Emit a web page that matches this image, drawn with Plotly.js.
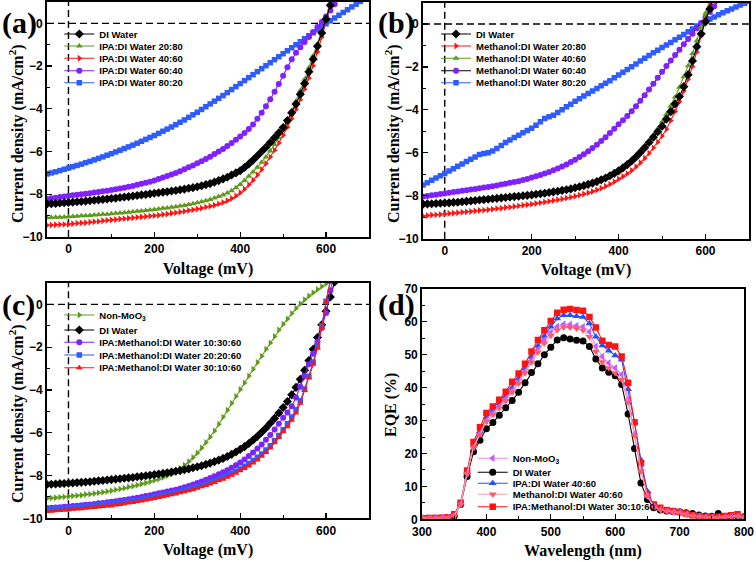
<!DOCTYPE html>
<html>
<head>
<meta charset="utf-8">
<script src="https://cdn.plot.ly/plotly-3.0.1.min.js"></script>
<style>
html,body{margin:0;padding:0;background:#fff;}
#chart{width:756px;height:562px;}
</style>
</head>
<body>
<div id="chart"></div>
<script>
// ---------------- DATA ----------------
const voltage = [-50,-40,-30,-20,-10,0,10,20,30,40,50,60,70,80,90,100,110,120,130,140,150,160,170,180,190,200,210,220,230,240,250,260,270,280,290,300,310,320,330,340,350,360,370,380,390,400,410,420,430,440,450,460,470,480,490,500,510,520,530,540,550,560,570,580,590,600,610,620,630,640,650,660,670,680,690,700];

// (a) IPA:DI Water
const aDI = [-8.45,-8.44,-8.43,-8.41,-8.40,-8.38,-8.37,-8.35,-8.34,-8.32,
-8.30,-8.28,-8.26,-8.24,-8.22,-8.20,-8.18,-8.15,-8.13,-8.11,
-8.08,-8.06,-8.03,-8.01,-7.98,-7.95,-7.93,-7.90,-7.88,-7.85,
-7.82,-7.79,-7.76,-7.72,-7.69,-7.65,-7.60,-7.55,-7.50,-7.43,
-7.36,-7.28,-7.20,-7.10,-7.00,-6.90,-6.75,-6.58,-6.40,-6.20,
-6.00,-5.80,-5.58,-5.35,-5.12,-4.88,-4.55,-4.18,-3.78,-3.32,
-2.82,-2.27,-1.68,-1.07,-0.45,0.20,0.85,1.50];
const aIPA2080 = [-9.10,-9.09,-9.08,-9.07,-9.06,-9.05,-9.04,-9.03,-9.01,-9.00,
-8.99,-8.97,-8.96,-8.94,-8.93,-8.91,-8.89,-8.88,-8.86,-8.84,
-8.82,-8.80,-8.78,-8.76,-8.74,-8.71,-8.69,-8.66,-8.64,-8.61,
-8.58,-8.55,-8.52,-8.48,-8.44,-8.40,-8.35,-8.30,-8.24,-8.18,
-8.11,-8.03,-7.94,-7.83,-7.70,-7.54,-7.36,-7.16,-6.96,-6.74,
-6.50,-6.25,-5.97,-5.67,-5.35,-5.00,-4.58,-4.12,-3.64,-3.14,
-2.62,-2.08,-1.52,-0.95,-0.37,0.22,0.82,1.42];
const aIPA4060 = [-9.45,-9.44,-9.43,-9.42,-9.41,-9.40,-9.38,-9.36,-9.34,-9.33,
-9.31,-9.29,-9.27,-9.24,-9.22,-9.20,-9.18,-9.16,-9.14,-9.12,
-9.10,-9.08,-9.06,-9.04,-9.02,-9.00,-8.98,-8.95,-8.92,-8.89,
-8.86,-8.83,-8.80,-8.76,-8.73,-8.69,-8.65,-8.60,-8.56,-8.51,
-8.45,-8.38,-8.30,-8.20,-8.08,-7.93,-7.76,-7.56,-7.34,-7.10,
-6.84,-6.56,-6.26,-5.94,-5.60,-5.24,-4.86,-4.46,-4.03,-3.57,
-3.08,-2.56,-1.98,-1.34,-0.64,0.10,0.85,1.60];
const aIPA6040 = [-8.22,-8.19,-8.16,-8.13,-8.10,-8.07,-8.05,-8.02,-8.00,-7.97,
-7.95,-7.92,-7.89,-7.86,-7.83,-7.80,-7.77,-7.73,-7.69,-7.65,
-7.61,-7.56,-7.51,-7.46,-7.41,-7.35,-7.29,-7.22,-7.15,-7.08,
-7.00,-6.92,-6.83,-6.74,-6.65,-6.55,-6.45,-6.35,-6.24,-6.12,
-6.00,-5.88,-5.74,-5.60,-5.45,-5.30,-5.13,-4.95,-4.73,-4.46,
-4.18,-3.88,-3.55,-3.20,-2.84,-2.45,-2.06,-1.68,-1.38,-1.12,
-0.87,-0.64,-0.40,-0.17,0.06,0.32,0.60,0.90,1.20];
const aIPA8020 = [-7.05,-7.00,-6.95,-6.89,-6.83,-6.77,-6.71,-6.65,-6.59,-6.52,
-6.46,-6.39,-6.32,-6.25,-6.17,-6.10,-6.02,-5.94,-5.86,-5.78,
-5.70,-5.61,-5.52,-5.43,-5.34,-5.25,-5.15,-5.05,-4.95,-4.85,
-4.74,-4.63,-4.52,-4.40,-4.28,-4.16,-4.03,-3.90,-3.77,-3.64,
-3.51,-3.38,-3.24,-3.10,-2.96,-2.82,-2.68,-2.54,-2.40,-2.26,
-2.12,-1.98,-1.84,-1.70,-1.56,-1.42,-1.28,-1.14,-1.00,-0.86,
-0.72,-0.58,-0.44,-0.30,-0.16,-0.02,0.12,0.25,0.38,0.51,
0.64,0.77,0.90,1.03,1.16,1.29];

// (b) Methanol:DI Water
const bDI = [-8.39,-8.38,-8.37,-8.36,-8.35,-8.34,-8.33,-8.31,-8.30,-8.28,
-8.26,-8.24,-8.22,-8.20,-8.18,-8.16,-8.14,-8.12,-8.10,-8.08,
-8.06,-8.04,-8.02,-8.00,-7.98,-7.96,-7.93,-7.91,-7.88,-7.85,
-7.82,-7.79,-7.75,-7.72,-7.68,-7.63,-7.58,-7.53,-7.47,-7.41,
-7.34,-7.26,-7.17,-7.07,-6.96,-6.84,-6.70,-6.55,-6.38,-6.19,
-5.98,-5.76,-5.52,-5.27,-5.02,-4.76,-4.43,-4.08,-3.72,-3.38,
-2.92,-2.36,-1.72,-1.06,-0.46,0.10,0.70,1.32];
const bMe2080 = [-8.94,-8.92,-8.90,-8.89,-8.87,-8.85,-8.83,-8.81,-8.79,-8.77,
-8.75,-8.73,-8.71,-8.69,-8.67,-8.65,-8.63,-8.60,-8.58,-8.55,
-8.53,-8.50,-8.47,-8.44,-8.42,-8.39,-8.36,-8.33,-8.29,-8.26,
-8.22,-8.19,-8.15,-8.11,-8.07,-8.02,-7.97,-7.92,-7.86,-7.80,
-7.73,-7.65,-7.56,-7.46,-7.35,-7.22,-7.10,-6.97,-6.82,-6.65,
-6.46,-6.25,-6.02,-5.77,-5.50,-5.22,-4.90,-4.50,-4.08,-3.62,
-3.12,-2.58,-1.98,-1.30,-0.55,0.20,0.95,1.70];
const bMe4060 = [-8.39,-8.38,-8.37,-8.36,-8.35,-8.34,-8.33,-8.31,-8.30,-8.28,
-8.26,-8.24,-8.22,-8.20,-8.18,-8.16,-8.14,-8.12,-8.10,-8.08,
-8.06,-8.04,-8.02,-8.00,-7.98,-7.96,-7.93,-7.91,-7.88,-7.85,
-7.82,-7.79,-7.75,-7.72,-7.68,-7.64,-7.59,-7.54,-7.48,-7.42,
-7.35,-7.27,-7.18,-7.08,-6.97,-6.85,-6.71,-6.56,-6.38,-6.18,
-5.96,-5.72,-5.46,-5.18,-4.88,-4.56,-4.20,-3.82,-3.40,-2.95,
-2.46,-1.94,-1.38,-0.78,-0.15,0.50,1.15];
const bMe6040 = [-8.04,-8.01,-7.98,-7.95,-7.92,-7.89,-7.86,-7.83,-7.80,-7.77,
-7.74,-7.71,-7.68,-7.65,-7.62,-7.59,-7.56,-7.52,-7.48,-7.44,
-7.40,-7.36,-7.32,-7.27,-7.22,-7.15,-7.09,-7.03,-6.96,-6.89,
-6.81,-6.73,-6.64,-6.54,-6.43,-6.32,-6.20,-6.07,-5.93,-5.78,
-5.62,-5.45,-5.27,-5.08,-4.88,-4.67,-4.48,-4.28,-4.07,-3.83,
-3.58,-3.32,-3.05,-2.78,-2.50,-2.23,-1.96,-1.70,-1.45,-1.20,
-0.95,-0.70,-0.45,-0.20,0.05,0.30,0.56,0.83,1.10];
const bMe8020 = [-7.50,-7.39,-7.28,-7.17,-7.07,-6.96,-6.85,-6.74,-6.63,-6.52,
-6.41,-6.30,-6.19,-6.08,-6.03,-6.00,-5.92,-5.80,-5.66,-5.52,
-5.40,-5.29,-5.18,-5.07,-4.96,-4.86,-4.72,-4.55,-4.40,-4.32,
-4.25,-4.12,-3.99,-3.86,-3.74,-3.60,-3.48,-3.36,-3.24,-3.12,
-3.00,-2.88,-2.76,-2.64,-2.51,-2.38,-2.25,-2.12,-1.99,-1.86,
-1.73,-1.60,-1.47,-1.34,-1.22,-1.10,-0.98,-0.86,-0.74,-0.62,
-0.49,-0.36,-0.23,-0.10,0.02,0.13,0.23,0.33,0.43,0.52,
0.61,0.70,0.79,0.88,0.97,1.06];

// (c) ternary mixtures
const cNonMoO3 = [-9.07,-9.05,-9.04,-9.02,-9.00,-8.98,-8.96,-8.94,-8.92,-8.89,
-8.87,-8.84,-8.81,-8.78,-8.75,-8.71,-8.67,-8.63,-8.59,-8.54,
-8.50,-8.45,-8.40,-8.35,-8.29,-8.22,-8.16,-8.09,-8.01,-7.92,
-7.80,-7.67,-7.52,-7.35,-7.16,-6.95,-6.71,-6.46,-6.20,-5.92,
-5.60,-5.27,-4.95,-4.62,-4.30,-3.98,-3.67,-3.35,-3.03,-2.72,
-2.42,-2.10,-1.80,-1.50,-1.20,-0.93,-0.68,-0.42,-0.18,0.03,
0.22,0.39,0.55,0.70,0.84,0.97,1.09];
const cDI = [-8.42,-8.41,-8.40,-8.38,-8.37,-8.36,-8.35,-8.33,-8.32,-8.30,
-8.29,-8.27,-8.25,-8.23,-8.21,-8.19,-8.17,-8.15,-8.13,-8.11,
-8.09,-8.06,-8.04,-8.01,-7.99,-7.96,-7.93,-7.90,-7.87,-7.84,
-7.80,-7.77,-7.73,-7.69,-7.64,-7.59,-7.54,-7.48,-7.42,-7.35,
-7.28,-7.20,-7.11,-7.01,-6.90,-6.78,-6.65,-6.50,-6.34,-6.17,
-5.98,-5.78,-5.56,-5.33,-5.08,-4.82,-4.54,-4.23,-3.88,-3.50,
-3.08,-2.62,-2.10,-1.55,-0.95,-0.32,0.35,1.05];
const c103060 = [-9.52,-9.51,-9.49,-9.48,-9.46,-9.45,-9.43,-9.41,-9.39,-9.37,
-9.35,-9.33,-9.30,-9.28,-9.25,-9.23,-9.20,-9.17,-9.14,-9.11,
-9.07,-9.04,-9.00,-8.96,-8.92,-8.87,-8.83,-8.79,-8.75,-8.70,
-8.66,-8.61,-8.55,-8.49,-8.42,-8.35,-8.28,-8.20,-8.12,-8.03,
-7.94,-7.85,-7.75,-7.64,-7.52,-7.39,-7.25,-7.09,-6.92,-6.74,
-6.55,-6.33,-6.10,-5.85,-5.58,-5.30,-5.05,-4.76,-4.35,-3.85,
-3.35,-2.80,-2.30,-1.75,-1.10,-0.40,0.65,1.50];
const c202060 = [-9.58,-9.57,-9.55,-9.54,-9.52,-9.51,-9.49,-9.47,-9.45,-9.43,
-9.41,-9.39,-9.37,-9.35,-9.33,-9.31,-9.28,-9.26,-9.23,-9.20,
-9.17,-9.14,-9.11,-9.07,-9.03,-8.99,-8.95,-8.91,-8.87,-8.83,
-8.78,-8.73,-8.68,-8.63,-8.57,-8.51,-8.45,-8.38,-8.31,-8.24,
-8.16,-8.08,-7.99,-7.90,-7.80,-7.69,-7.57,-7.44,-7.30,-7.15,
-6.99,-6.81,-6.61,-6.38,-6.13,-5.86,-5.58,-5.27,-4.92,-4.50,
-3.95,-3.36,-2.70,-1.95,-1.00,0.15,1.10];
const c301060 = [-9.68,-9.67,-9.65,-9.63,-9.62,-9.60,-9.58,-9.57,-9.55,-9.53,
-9.51,-9.49,-9.47,-9.45,-9.43,-9.42,-9.38,-9.35,-9.32,-9.29,
-9.26,-9.22,-9.19,-9.15,-9.11,-9.07,-9.03,-8.99,-8.95,-8.90,
-8.86,-8.81,-8.76,-8.71,-8.66,-8.59,-8.53,-8.47,-8.40,-8.33,
-8.25,-8.17,-8.08,-7.99,-7.89,-7.78,-7.67,-7.55,-7.42,-7.27,
-7.10,-6.92,-6.71,-6.47,-6.22,-5.95,-5.72,-5.42,-5.08,-4.62,
-4.02,-3.44,-2.80,-2.05,-1.10,0.12,1.10];

// (d) EQE
const wavelength = [300,310,320,330,340,350,360,370,380,390,400,410,420,430,440,450,460,470,480,490,500,510,520,530,540,550,560,570,580,590,600,610,620,630,640,650,660,670,680,690,700,710,720,730,740,750,760,770,780,790,800];
const eqeNonMoO3 = [0.3,0.3,0.3,0.4,0.5,1.2,4.6,14.0,22.0,26.0,
30.0,32.2,34.3,36.6,39.2,41.8,45.0,48.3,51.5,54.3,
56.8,58.6,59.3,59.2,58.8,58.5,57.0,52.5,49.5,47.5,
46.0,44.0,36.5,26.0,15.0,7.0,3.8,3.0,2.5,2.2,
1.9,1.5,1.1,0.8,0.6,0.5,0.5,0.6,0.8,0.9,0.6];
const eqeDI = [0.3,0.3,0.3,0.3,0.4,1.0,4.5,13.0,20.5,24.0,
27.5,29.4,31.6,33.9,36.1,38.6,41.5,44.6,47.3,50.0,
52.3,54.5,55.2,54.8,54.4,54.2,52.5,48.7,46.0,44.7,
43.6,41.0,32.0,21.5,11.0,6.0,3.5,2.8,2.5,2.4,
2.2,2.0,1.8,1.3,1.0,0.9,1.8,0.8,0.9,1.1,0.8];
const eqeIPA = [0.3,0.3,0.4,0.4,0.5,1.2,4.8,14.2,22.5,26.8,
31.0,33.0,35.2,37.4,40.0,42.8,45.8,49.3,52.7,55.7,
58.5,61.0,62.0,62.0,61.7,61.5,59.5,55.5,52.8,51.2,
49.8,48.5,39.5,29.5,18.0,8.5,4.0,3.2,2.6,2.3,
2.0,1.6,1.2,0.9,0.7,0.6,0.6,0.7,0.9,1.0,0.7];
const eqeMethanol = [0.3,0.3,0.3,0.4,0.5,1.1,4.5,13.8,21.8,25.8,
29.8,31.8,33.8,36.0,38.6,41.3,44.5,47.7,50.8,53.5,
55.8,57.5,58.4,58.3,58.0,57.5,55.5,51.0,47.8,46.0,
44.5,42.5,35.5,25.5,14.5,7.0,3.8,2.9,2.5,2.2,
1.9,1.5,1.1,0.8,0.6,0.5,0.5,0.6,0.8,1.0,0.6];
const eqeMix = [0.3,0.4,0.4,0.5,0.6,1.5,5.0,14.8,23.5,28.0,
32.3,34.3,36.3,38.8,41.8,44.3,47.3,51.0,54.5,57.5,
60.3,62.8,63.7,63.9,63.6,63.4,61.5,58.3,54.3,53.0,
52.5,49.5,41.5,29.5,17.0,7.5,4.5,3.5,2.8,2.5,
2.2,1.8,1.2,1.0,0.8,0.8,0.8,1.0,1.2,1.5,0.6];

// ---------------- STYLE ----------------
const SANS = '"Liberation Sans", Arial, sans-serif';
const SERIF = '"Liberation Serif", "Times New Roman", serif';
const W = 756, H = 562;
const C = {black:'#000000', green:'#5f9a1c', red:'#ff1414', purple:'#7f22ff', blue:'#2e5cff',
           violet:'#c45cff', violetLine:'#e889f0', pink:'#ff5a6a', pinkLine:'#ff9ea6', blue2:'#2450ff'};

const traces = [];
const layout = {
  width: W, height: H, margin:{l:0,r:0,t:0,b:0},
  paper_bgcolor:'#ffffff', plot_bgcolor:'#ffffff', showlegend:true,
  shapes: [], annotations: []
};
let legendCount = 0;
// add a trace with its own single-entry legend placed at (textX, rowY) pixels
function addSeries(opts){
  legendCount++;
  const lid = legendCount === 1 ? 'legend' : 'legend' + legendCount;
  const ax = opts.axis === 1 ? '' : String(opts.axis);
  traces.push({
    type:'scatter', mode:'lines+markers', name: opts.name,
    x: opts.x, y: opts.y, xaxis:'x'+ax, yaxis:'y'+ax,
    line:{color: opts.lineColor || opts.color, width:1.1},
    marker:{color: opts.color, symbol: opts.symbol, size: opts.size || 6, line:{width:0}},
    legend: lid, showlegend:true, cliponaxis:true
  });
  layout[lid] = {
    x: (opts.textX - 40) / W, y: 1 - opts.rowY / H, xanchor:'left', yanchor:'middle',
    bgcolor:'rgba(0,0,0,0)', borderwidth:0, itemwidth:30,
    font:{family:SANS, size:9.5, color:'#000', weight:'bold'}
  };
}

function axisPair(n, xdom, ydom, xr, yr, xd, xm, yd, ym, xtitle){
  const s = n === 1 ? '' : String(n);
  const common = {showgrid:false, zeroline:false, showline:true, mirror:true, linecolor:'#000', linewidth:1.8,
    ticks:'inside', ticklen:5, tickwidth:1.2, tickcolor:'#000',
    tickfont:{family:SANS, size:12, color:'#000', weight:'bold'}};
  layout['xaxis'+s] = Object.assign({}, common, {domain:xdom, range:xr, anchor:'y'+s, tick0:0, dtick:xd,
    minor:{dtick:xm, ticks:'inside', ticklen:3, tickcolor:'#000', tickwidth:1, showgrid:false},
    title:{text:xtitle, font:{family:SERIF, size:16, color:'#000', weight:'bold'}, standoff:7}});
  layout['yaxis'+s] = Object.assign({}, common, {domain:ydom, range:yr, anchor:'x'+s, tick0:0, dtick:yd,
    minor:{dtick:ym, ticks:'inside', ticklen:3, tickcolor:'#000', tickwidth:1, showgrid:false}});
}
axisPair(1, [47/W, 369/W], [1-237/H, 1-2/H], [-50,700], [-10,1], 200, 100, 2, 1, 'Voltage (mV)');
axisPair(2, [423/W, 749/W], [1-238.7/H, 1-2.5/H], [-50,700], [-10,1], 200, 100, 2, 1, 'Voltage (mV)');
axisPair(3, [47/W, 369/W], [1-518.3/H, 1-283/H], [-50,700], [-10,1], 200, 100, 2, 1, 'Voltage (mV)');
axisPair(4, [422/W, 744/W], [1-519.3/H, 1-289/H], [300,800], [0,70], 100, 50, 10, 5, 'Wavelength (nm)');

// y-axis titles (rotated), placed where the reference shows them
const yTitleJ = 'Current density (mA/cm<sup>2</sup>)';
[[yTitleJ,16,134],[yTitleJ,392,134],[yTitleJ,16,414],['EQE (%)',391,405]].forEach(t => {
  layout.annotations.push({text:t[0], xref:'paper', yref:'paper', x:t[1]/W, y:1-t[2]/H, xanchor:'center', yanchor:'middle',
    textangle:-90, showarrow:false, font:{family:SERIF, size:16, color:'#000', weight:'bold'}});
});

// dashed reference lines in J-V panels
[1,2,3].forEach(n => {
  const s = n === 1 ? '' : String(n);
  const dash = {color:'#000', width:1.4, dash:'7px,4px'};
  layout.shapes.push({type:'line', layer:'below', xref:'x'+s, yref:'y'+s+' domain', x0:0, x1:0, y0:0, y1:1, line:dash});
  layout.shapes.push({type:'line', layer:'below', xref:'x'+s+' domain', yref:'y'+s, x0:0, x1:1, y0:0, y1:0, line:dash});
});

// panel labels
[['(a)',0,23],['(b)',376,23],['(c)',0,305],['(d)',376,305]].forEach(p => {
  layout.annotations.push({text:p[0], xref:'paper', yref:'paper', x:p[1]/W, y:1-p[2]/H, xanchor:'left', yanchor:'middle',
    showarrow:false, font:{family:SERIF, size:30, color:'#000', weight:'bold'}});
});

// ---------------- TRACES ----------------
// (a) — drawing order chosen so black sits on top like the reference
addSeries({axis:1, name:'IPA:DI Water 80:20', x:voltage, y:aIPA8020, color:C.blue, symbol:'square', size:5.5, textX:99.3, rowY:82.7});
addSeries({axis:1, name:'IPA:DI Water 60:40', x:voltage, y:aIPA6040, color:C.purple, symbol:'circle', textX:99.3, rowY:70.7});
addSeries({axis:1, name:'IPA:DI Water 40:60', x:voltage, y:aIPA4060, color:C.red, symbol:'triangle-right', textX:99.3, rowY:58.3});
addSeries({axis:1, name:'IPA:DI Water 20:80', x:voltage, y:aIPA2080, color:C.green, symbol:'triangle-up', textX:99.3, rowY:46});
addSeries({axis:1, name:'DI Water', x:voltage, y:aDI, color:C.black, symbol:'diamond', size:7, textX:99.3, rowY:34});

// (b)
addSeries({axis:2, name:'Methanol:DI Water 80:20', x:voltage, y:bMe8020, color:C.blue, symbol:'square', size:5.5, textX:476, rowY:82.7});
addSeries({axis:2, name:'Methanol:DI Water 60:40', x:voltage, y:bMe6040, color:C.purple, lineColor:'#000', symbol:'circle', textX:476, rowY:70.7});
addSeries({axis:2, name:'Methanol:DI Water 20:80', x:voltage, y:bMe2080, color:C.red, symbol:'triangle-right', textX:476, rowY:46});
addSeries({axis:2, name:'Methanol:DI Water 40:60', x:voltage, y:bMe4060, color:C.green, symbol:'triangle-up', textX:476, rowY:58.3});
addSeries({axis:2, name:'DI Water', x:voltage, y:bDI, color:C.black, symbol:'diamond', size:7, textX:476, rowY:34});

// (c)
addSeries({axis:3, name:'Non-MoO<sub>3</sub>', x:voltage, y:cNonMoO3, color:C.green, symbol:'triangle-right', textX:99.3, rowY:315});
addSeries({axis:3, name:'DI Water', x:voltage, y:cDI, color:C.black, symbol:'diamond', size:7, textX:99.3, rowY:330});
addSeries({axis:3, name:'IPA:Methanol:DI Water 10:30:60', x:voltage, y:c103060, color:C.purple, symbol:'circle', textX:99.3, rowY:342.3});
addSeries({axis:3, name:'IPA:Methanol:DI Water 20:20:60', x:voltage, y:c202060, color:C.blue, symbol:'square', size:5.5, textX:99.3, rowY:355});
addSeries({axis:3, name:'IPA:Methanol:DI Water 30:10:60', x:voltage, y:c301060, color:C.red, symbol:'triangle-up', textX:99.3, rowY:367.7});

// (d)
addSeries({axis:4, name:'DI Water', x:wavelength, y:eqeDI, color:C.black, symbol:'circle', size:7, textX:512.7, rowY:472.3});
addSeries({axis:4, name:'IPA:DI Water 40:60', x:wavelength, y:eqeIPA, color:C.blue2, symbol:'triangle-up', size:7, textX:512.7, rowY:483.3});
addSeries({axis:4, name:'IPA:Methanol:DI Water 30:10:60', x:wavelength, y:eqeMix, color:C.red, symbol:'square', size:6.5, textX:512.7, rowY:506.7});
addSeries({axis:4, name:'Non-MoO<sub>3</sub>', x:wavelength, y:eqeNonMoO3, color:C.violet, lineColor:C.violetLine, symbol:'triangle-left', size:7, textX:512.7, rowY:458.3});
addSeries({axis:4, name:'Methanol:DI Water 40:60', x:wavelength, y:eqeMethanol, color:C.pink, lineColor:C.pinkLine, symbol:'triangle-down', size:7, textX:512.7, rowY:494.3});

Plotly.newPlot('chart', traces, layout, {displayModeBar:false, staticPlot:true});
</script>
</body>
</html>
